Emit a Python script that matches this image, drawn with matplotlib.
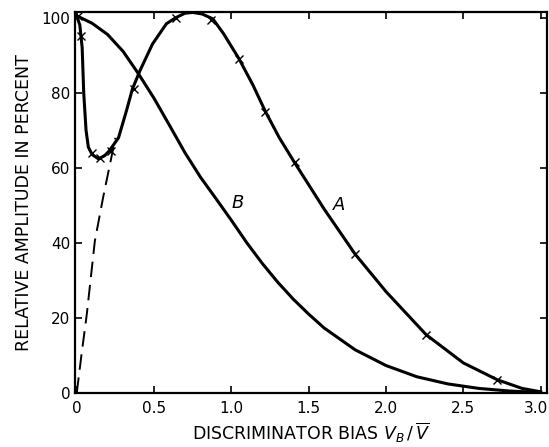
import matplotlib
matplotlib.use("Agg")
import matplotlib.pyplot as plt
import matplotlib.transforms as mtransforms

# curve A
a_x = [0.0, 0.02, 0.035, 0.045, 0.06, 0.075, 0.1, 0.14, 0.18, 0.21, 0.27, 0.32,
       0.36, 0.41, 0.49, 0.58, 0.64, 0.7, 0.75, 0.81, 0.88, 0.95, 1.05, 1.14,
       1.22, 1.31, 1.41, 1.6, 1.8, 2.0, 2.26, 2.5, 2.72, 2.88, 3.0]
a_y = [100.5, 98, 92, 80, 70, 65.5, 63.5, 62.4, 63.2, 64.5, 68, 75,
       81, 86, 93, 98.4, 100, 101.2, 101.4, 101, 99.7, 95.7, 89, 82,
       75, 68, 61.3, 49, 37, 27, 15.5, 8, 3.5, 1.2, 0.3]

# measured points on A
pts_x = [0.005, 0.03, 0.1, 0.15, 0.22, 0.37, 0.64, 0.87, 1.05, 1.22, 1.41, 1.8, 2.26, 2.72]
pts_y = [100.5, 95, 64, 62.5, 64.5, 81, 100, 99.5, 89, 75, 61.5, 37, 15.5, 3.5]

# curve B
b_x = [0.0, 0.1, 0.2, 0.3, 0.4, 0.5, 0.6, 0.7, 0.8, 0.9, 1.0, 1.1,
       1.2, 1.3, 1.4, 1.5, 1.6, 1.8, 2.0, 2.2, 2.4, 2.6, 2.8, 3.0]
b_y = [100.5, 98.5, 95.5, 91, 85, 78.5, 71.3, 64, 57.5, 51.8, 46, 40,
       34.5, 29.5, 25, 21, 17.3, 11.5, 7.3, 4.3, 2.4, 1.2, 0.5, 0.1]

# dashed extrapolation
d_x = [0.0, 0.03, 0.065, 0.117, 0.17, 0.21, 0.25]
d_y = [0.0, 10, 21, 40.5, 52, 60, 68]

fig = plt.figure(figsize=(5.49, 4.47), dpi=100)
ax = fig.add_axes([0.137, 0.121, 0.859, 0.852])

ax.plot(a_x, a_y, color="black", lw=2.2, solid_joinstyle="round")
ax.plot(pts_x, pts_y, "x", color="black", ms=6, mew=1.0)
ax.plot(b_x, b_y, color="black", lw=2.2, solid_joinstyle="round")
ax.plot(d_x, d_y, color="black", lw=1.4, dashes=(8, 4))

ax.text(1.7, 50, "A", fontsize=13, style="italic", ha="center", va="center")
ax.text(1.04, 50.7, "B", fontsize=13, style="italic", ha="center", va="center")

ax.set_xlim(-0.01, 3.04)
ax.set_ylim(0, 101.5)
ax.set_xticks([0, 0.5, 1.0, 1.5, 2.0, 2.5, 3.0])
ax.set_xticklabels(["0", "0.5", "1.0", "1.5", "2.0", "2.5", "3.0"])
ax.set_yticks([0, 20, 40, 60, 80, 100])
ax.tick_params(direction="in", top=True, right=True, length=5, width=1.2,
               labelsize=11)
ax.tick_params(axis="x", pad=6)
for s in ax.spines.values():
    s.set_linewidth(1.6)

# last tick label sits at the figure edge, nudge it in a little
last = ax.get_xticklabels()[-1]
last.set_transform(last.get_transform() +
                   mtransforms.ScaledTranslation(-5 / 100, 0, fig.dpi_scale_trans))

ax.set_ylabel("RELATIVE AMPLITUDE IN PERCENT", fontsize=12.5, labelpad=6)
ax.set_xlabel(r"DISCRIMINATOR BIAS $V_B\,/\,\overline{V}$", fontsize=12.5, labelpad=3)

fig.savefig("out.png", dpi=100)
